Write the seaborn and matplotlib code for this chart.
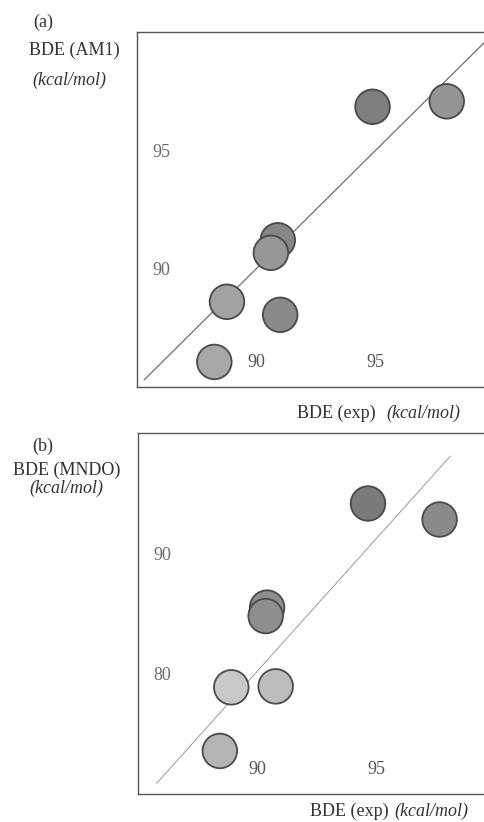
import matplotlib
matplotlib.use("Agg")
import matplotlib.pyplot as plt
import seaborn as sns
import pandas as pd

# panel (a): AM1 vs experiment
am1_exp = [94.87, 97.98, 90.90, 90.61, 88.77, 91.00, 88.24]
am1_calc = [96.84, 97.07, 91.20, 90.67, 88.60, 88.05, 86.06]
am1_line_x = [85.3, 100.5]
am1_line_y = [85.3, 100.5]

# panel (b): MNDO vs experiment
mndo_exp = [94.65, 97.65, 90.42, 90.36, 88.92, 90.78, 88.44]
mndo_calc = [94.16, 92.83, 85.50, 84.80, 78.87, 78.95, 73.58]
mndo_line_x = [85.8, 98.1]
mndo_line_y = [70.9, 98.1]

xticks = [90, 95]
am1_yticks = [90, 95]
mndo_yticks = [80, 90]

sns.set_style("white")
plt.rcParams['font.family'] = ['Liberation Serif', 'DejaVu Serif']

am1_shades = ["#7e7e7e", "#959595", "#868686", "#979797", "#a2a2a2", "#8a8a8a", "#a8a8a8"]
mndo_shades = ["#7a7a7a", "#8a8a8a", "#8e8e8e", "#8e8e8e", "#c8c8c8", "#bcbcbc", "#b4b4b4"]

fig = plt.figure(figsize=(4.85, 8.22), dpi=100)
ax_a = fig.add_axes([0.2825, 0.5292, 0.738, 0.4319])
ax_b = fig.add_axes([0.284, 0.0341, 0.738, 0.4388])


def draw_panel(ax, xs, ys, shades, lx, ly, line_color, lw, ylim, yticks):
    ax.plot(lx, ly, color=line_color, lw=lw, zorder=1)
    df = pd.DataFrame({"x": xs, "y": ys, "k": [str(i) for i in range(len(xs))]})
    sns.scatterplot(data=df, x="x", y="y", hue="k", palette=shades, s=620,
                    edgecolor="#4a4a4a", linewidth=1.3, legend=False, ax=ax, zorder=3)
    ax.set_xlim(85, 100)
    ax.set_ylim(*ylim)
    ax.set_xticks(xticks)
    ax.set_yticks(yticks)
    ax.set_xlabel("")
    ax.set_ylabel("")
    for s in ax.spines.values():
        s.set_color("#555555")
        s.set_linewidth(1.0)
    ax.tick_params(axis="x", direction="in", length=4, width=0.8, color="#555555",
                   pad=-24, labelsize=13, labelcolor="#555555")
    ax.tick_params(axis="y", direction="in", length=4, width=0.8, color="#555555",
                   pad=-24, labelsize=13, labelcolor="#6a6a6a")


draw_panel(ax_a, am1_exp, am1_calc, am1_shades, am1_line_x, am1_line_y,
           "#707070", 0.9, (85, 100), am1_yticks)
draw_panel(ax_b, mndo_exp, mndo_calc, mndo_shades, mndo_line_x, mndo_line_y,
           "#9a9a9a", 0.7, (70, 100), mndo_yticks)

txt = dict(fontsize=13, color="#333333")
fig.text(0.0887, 0.9732, "(a)", ha="center", va="center", **txt)
fig.text(0.1526, 0.9392, "BDE (AM1)", ha="center", va="center", **txt)
fig.text(0.1423, 0.9027, "(kcal/mol)", ha="center", va="center", style="italic", **txt)
fig.text(297 / 485, 1 - 413 / 822, "BDE (exp)", ha="left", va="center", **txt)
fig.text(386 / 485, 1 - 413 / 822, "(kcal/mol)", ha="left", va="center", style="italic", **txt)

fig.text(0.0876, 1 - 446.7 / 822, "(b)", ha="center", va="center", **txt)
fig.text(66.7 / 485, 1 - 470 / 822, "BDE (MNDO)", ha="center", va="center", **txt)
fig.text(66.3 / 485, 1 - 488 / 822, "(kcal/mol)", ha="center", va="center", style="italic", **txt)
fig.text(310 / 485, 2 / 822, "BDE (exp)", ha="left", va="bottom", **txt)
fig.text(394 / 485, 2 / 822, "(kcal/mol)", ha="left", va="bottom", style="italic", **txt)

fig.savefig("out.png", dpi=100)
